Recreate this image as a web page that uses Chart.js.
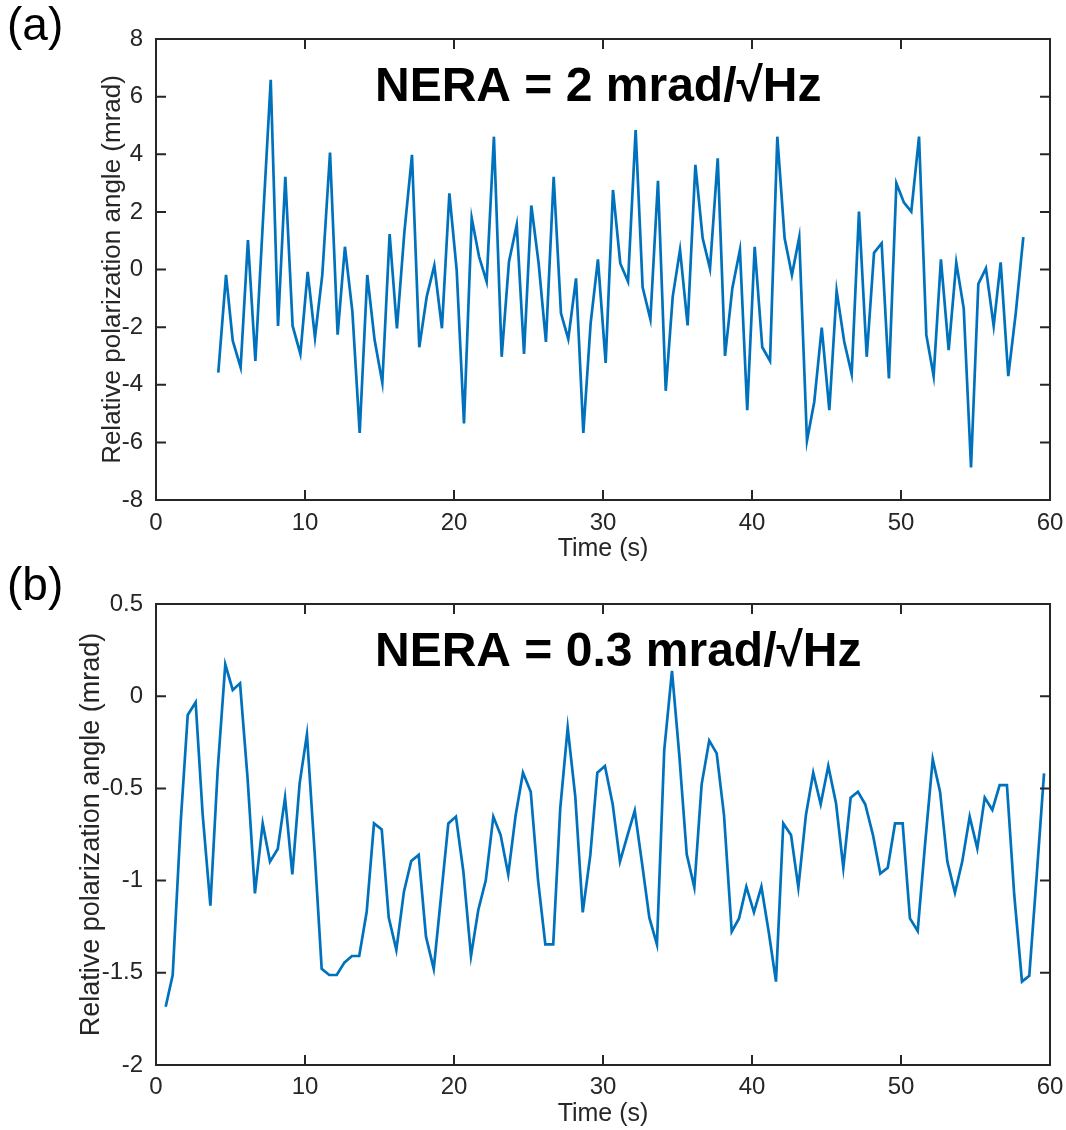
<!DOCTYPE html>
<html>
<head>
<meta charset="utf-8">
<script src="https://cdn.jsdelivr.net/npm/chart.js@4.4.1/dist/chart.umd.min.js"></script>
<style>
  body { margin: 0; background: #fff; width: 1066px; height: 1130px; position: relative; overflow: hidden; }
  canvas { position: absolute; left: 0; }
  #chartA { top: 0; }
  #chartB { top: 545px; }
</style>
</head>
<body>
<canvas id="chartA" width="1066" height="565"></canvas>
<canvas id="chartB" width="1066" height="585"></canvas>
<script>
// panel (a): NERA = 2 mrad/sqrt(Hz)
const timeA = [
	4.18, 4.70, 5.15, 5.68, 6.17, 6.67, 7.18, 7.70, 8.19, 8.68,
	9.17, 9.69, 10.18, 10.67, 11.16, 11.68, 12.19, 12.68, 13.18, 13.67,
	14.18, 14.67, 15.19, 15.68, 16.17, 16.67, 17.18, 17.67, 18.17, 18.68,
	19.19, 19.69, 20.18, 20.67, 21.19, 21.68, 22.19, 22.68, 23.20, 23.69,
	24.21, 24.70, 25.19, 25.68, 26.17, 26.69, 27.18, 27.67, 28.19, 28.68,
	29.17, 29.66, 30.18, 30.67, 31.16, 31.68, 32.19, 32.66, 33.18, 33.69,
	34.21, 34.68, 35.17, 35.68, 36.20, 36.69, 37.18, 37.70, 38.19, 38.68,
	39.19, 39.68, 40.18, 40.69, 41.21, 41.70, 42.19, 42.68, 43.17, 43.69,
	44.18, 44.68, 45.19, 45.68, 46.19, 46.69, 47.18, 47.70, 48.19, 48.70,
	49.19, 49.69, 50.20, 50.69, 51.21, 51.70, 52.19, 52.68, 53.20, 53.71,
	54.21, 54.70, 55.19, 55.70, 56.22, 56.69, 57.20, 57.70, 58.21
];
const angleA = [
	-3.58, -0.19, -2.47, -3.40, 1.02, -3.17, 1.71, 6.58, -1.96, 3.22,
	-1.96, -2.93, -0.08, -2.36, -0.19, 4.06, -2.26, 0.79, -1.46, -5.67,
	-0.19, -2.44, -3.93, 1.23, -2.04, 1.30, 3.98, -2.70, -0.94, 0.14,
	-2.04, 2.64, -0.02, -5.34, 1.78, 0.45, -0.42, 4.61, -3.03, 0.27,
	1.55, -2.93, 2.22, 0.21, -2.51, 3.22, -1.52, -2.41, -0.31, -5.67,
	-1.87, 0.35, -3.24, 2.76, 0.21, -0.42, 4.84, -0.62, -1.73, 3.08,
	-4.21, -0.94, 0.68, -1.94, 3.63, 1.08, 0.03, 3.86, -3.00, -0.65,
	0.68, -4.88, 0.79, -2.70, -3.17, 4.61, 1.08, -0.19, 1.12, -5.94,
	-4.59, -2.02, -4.88, -0.74, -2.51, -3.63, 2.01, -3.03, 0.58, 0.91,
	-3.78, 2.99, 2.32, 2.01, 4.61, -2.27, -3.70, 0.35, -2.80, 0.24,
	-1.35, -6.87, -0.50, 0.04, -1.96, 0.25, -3.70, -1.52, 1.12
];
const yTicksA = [-8, -6, -4, -2, 0, 2, 4, 6, 8];
const yLabelsA = ["-8", "-6", "-4", "-2", "0", "2", "4", "6", "8"];

// panel (b): NERA = 0.3 mrad/sqrt(Hz)
const timeB = [
	0.65, 1.12, 1.66, 2.13, 2.66, 3.13, 3.65, 4.14, 4.65, 5.15,
	5.64, 6.15, 6.64, 7.16, 7.65, 8.17, 8.66, 9.15, 9.64, 10.13,
	10.65, 11.12, 11.63, 12.13, 12.64, 13.15, 13.64, 14.14, 14.63, 15.15,
	15.62, 16.13, 16.64, 17.13, 17.63, 18.12, 18.64, 19.13, 19.62, 20.13,
	20.63, 21.14, 21.63, 22.13, 22.64, 23.13, 23.64, 24.14, 24.63, 25.15,
	25.64, 26.13, 26.66, 27.13, 27.63, 28.14, 28.64, 29.15, 29.62, 30.13,
	30.65, 31.14, 31.64, 32.13, 32.62, 33.11, 33.62, 34.11, 34.63, 35.12,
	35.62, 36.13, 36.62, 37.13, 37.63, 38.12, 38.64, 39.13, 39.62, 40.13,
	40.63, 41.12, 41.61, 42.10, 42.62, 43.11, 43.62, 44.11, 44.61, 45.12,
	45.64, 46.13, 46.62, 47.11, 47.60, 48.12, 48.61, 49.11, 49.60, 50.11,
	50.60, 51.12, 51.61, 52.13, 52.62, 53.11, 53.62, 54.11, 54.61, 55.12,
	55.62, 56.13, 56.62, 57.11, 57.60, 58.12, 58.61, 59.11, 59.60
];
const angleB = [
	-1.684, -1.512, -0.68, -0.102, -0.033, -0.64, -1.136, -0.40, 0.173, 0.034,
	0.07, -0.45, -1.069, -0.69, -0.897, -0.829, -0.55, -0.966, -0.473, -0.207,
	-0.85, -1.479, -1.512, -1.512, -1.445, -1.409, -1.409, -1.169, -0.69, -0.722,
	-1.201, -1.376, -1.06, -0.894, -0.861, -1.304, -1.479, -1.087, -0.69, -0.653,
	-0.952, -1.409, -1.159, -1.0, -0.653, -0.753, -0.966, -0.644, -0.415, -0.518,
	-0.997, -1.346, -1.346, -0.61, -0.171, -0.545, -1.172, -0.861, -0.415, -0.379,
	-0.586, -0.897, -0.756, -0.621, -0.906, -1.201, -1.346, -0.292, 0.137, -0.319,
	-0.858, -1.037, -0.478, -0.241, -0.31, -0.644, -1.277, -1.205, -1.033, -1.172,
	-1.033, -1.277, -1.548, -0.69, -0.753, -1.037, -0.644, -0.415, -0.586, -0.379,
	-0.581, -0.93, -0.55, -0.518, -0.586, -0.753, -0.962, -0.93, -0.69, -0.69,
	-1.205, -1.273, -0.807, -0.342, -0.518, -0.897, -1.066, -0.897, -0.653, -0.825,
	-0.55, -0.617, -0.482, -0.482, -1.078, -1.548, -1.516, -0.97, -0.418
];
const yTicksB = [-2, -1.5, -1, -0.5, 0, 0.5];
const yLabelsB = ["-2", "-1.5", "-1", "-0.5", "0", "0.5"];

const xTicks = [0, 10, 20, 30, 40, 50, 60];
const xLabels = ["0", "10", "20", "30", "40", "50", "60"];

const FONT = '"Liberation Sans", Arial, Helvetica, sans-serif';
// tick numbers in the figure are tall and narrow
const TICK_FONT = '"Liberation Sans Narrow", "Liberation Sans", Arial, sans-serif';
Chart.defaults.font.family = FONT;
Chart.defaults.color = "#262626";

// matlab style box with inward ticks on all four sides, plus panel tag and NERA text
const boxPlugin = {
	id: "box",
	afterDraw(chart, args, o) {
		const ctx = chart.ctx;
		const a = chart.chartArea;
		const x = chart.scales.x;
		const y = chart.scales.y;
		ctx.save();
		ctx.strokeStyle = "#262626";
		ctx.lineWidth = 2;
		ctx.strokeRect(a.left, a.top, a.right - a.left, a.bottom - a.top);
		ctx.beginPath();
		x.ticks.forEach((t) => {
			const px = x.getPixelForValue(t.value);
			ctx.moveTo(px, a.bottom);
			ctx.lineTo(px, a.bottom - 10);
			ctx.moveTo(px, a.top);
			ctx.lineTo(px, a.top + 10);
		});
		y.ticks.forEach((t) => {
			const py = y.getPixelForValue(t.value);
			ctx.moveTo(a.left, py);
			ctx.lineTo(a.left + 10, py);
			ctx.moveTo(a.right, py);
			ctx.lineTo(a.right - 10, py);
		});
		ctx.stroke();

		ctx.fillStyle = "#000";
		ctx.textAlign = "left";
		ctx.textBaseline = "alphabetic";
		ctx.font = "bold 48px " + FONT;
		ctx.fillText(o.text, x.getPixelForValue(14.7), a.top + 62);
		ctx.font = "46px " + FONT;
		ctx.fillText(o.tag, 7, o.tagY);
		ctx.restore();
	},
};

function makePanel(id, time, angle, yTicks, yLabels, yMin, yMax, opt) {
	const ctx = document.getElementById(id).getContext("2d");
	return new Chart(ctx, {
		type: "line",
		data: {
			datasets: [
				{
					data: time.map((t, i) => ({ x: t, y: angle[i] })),
					borderColor: "#0072BD",
					borderWidth: 2.7,
					pointRadius: 0,
					tension: 0,
					fill: false,
				},
			],
		},
		plugins: [boxPlugin],
		options: {
			responsive: false,
			animation: false,
			layout: { padding: { top: opt.top, right: 16, bottom: 0, left: 0 } },
			plugins: {
				legend: { display: false },
				tooltip: { enabled: false },
				box: { text: opt.text, tag: opt.tag, tagY: opt.tagY },
			},
			scales: {
				x: {
					type: "linear",
					min: 0,
					max: 60,
					afterBuildTicks: (s) => {
						s.ticks = xTicks.map((v) => ({ value: v }));
					},
					afterFit: (s) => {
						s.height = opt.xHeight;
					},
					grid: { display: false },
					border: { display: false },
					ticks: {
						padding: opt.xPad,
						maxRotation: 0,
						font: { family: TICK_FONT, size: opt.tickSize },
						callback: (v) => xLabels[xTicks.indexOf(v)],
					},
					title: {
						display: true,
						text: "Time (s)",
						font: { size: 25 },
						padding: { top: 0, bottom: 1 },
					},
				},
				y: {
					min: yMin,
					max: yMax,
					afterBuildTicks: (s) => {
						s.ticks = yTicks.map((v) => ({ value: v }));
					},
					afterFit: (s) => {
						s.width = 156;
					},
					grid: { display: false },
					border: { display: false },
					ticks: {
						padding: 5,
						font: { family: TICK_FONT, size: opt.tickSize },
						callback: (v) => yLabels[yTicks.indexOf(v)],
					},
					title: {
						display: true,
						text: "Relative polarization angle (mrad)",
						font: { size: opt.yTitleSize },
						padding: { top: opt.yTitlePad, bottom: 0 },
					},
				},
			},
		},
	});
}

makePanel("chartA", timeA, angleA, yTicksA, yLabelsA, -8, 8, {
	top: 39,
	xHeight: 65,
	xPad: 1,
	tickSize: 24,
	yTitleSize: 26,
	yTitlePad: 97,
	text: "NERA = 2 mrad/\u221AHz",
	tag: "(a)",
	tagY: 40,
});

makePanel("chartB", timeB, angleB, yTicksB, yLabelsB, -2, 0.5, {
	top: 59,
	xHeight: 65,
	xPad: 0,
	tickSize: 24,
	yTitleSize: 27,
	yTitlePad: 75,
	text: "NERA = 0.3 mrad/\u221AHz",
	tag: "(b)",
	tagY: 55,
});
</script>
</body>
</html>
